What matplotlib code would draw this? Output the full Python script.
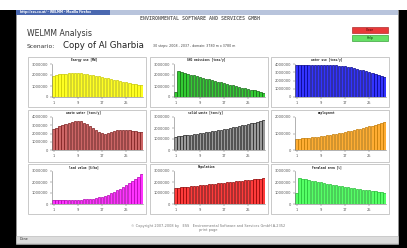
import matplotlib
matplotlib.use("Agg")
import matplotlib.pyplot as plt
from matplotlib.patches import Rectangle

W, H = 407, 248

# ---- data (values in millions) ----
steps = list(range(1, 31))
x_tick_steps = [1, 9, 17, 25]

titles = ["Energy use [MW]", "GHG emissions [tons/y]", "water use [tons/y]",
          "waste water [tons/y]", "solid waste [tons/y]", "employment",
          "land value [$/ha]", "Population", "Farmland area [%]"]

energy = [1.95, 2.0, 2.05, 2.1, 2.13, 2.15, 2.17, 2.18, 2.17, 2.15, 2.12, 2.08, 2.03, 1.98, 1.93,
          1.87, 1.81, 1.75, 1.69, 1.63, 1.57, 1.51, 1.45, 1.39, 1.33, 1.27, 1.21, 1.15, 1.1, 1.05]
ghg = [0.45, 2.36, 2.28, 2.2, 2.12, 2.04, 1.96, 1.88, 1.8, 1.73, 1.66, 1.6, 1.53, 1.46, 1.4,
       1.33, 1.27, 1.2, 1.13, 1.07, 1.0, 0.93, 0.86, 0.8, 0.73, 0.66, 0.6, 0.53, 0.46, 0.4]
water = [3.86, 3.87, 3.87, 3.86, 3.86, 3.86, 3.85, 3.85, 3.85, 3.84, 3.84, 3.84, 3.83, 3.82, 3.8,
         3.76, 3.71, 3.65, 3.58, 3.5, 3.42, 3.33, 3.23, 3.13, 3.02, 2.91, 2.8, 2.68, 2.56, 2.44]
waste_water = [2.6, 2.7, 2.85, 3.0, 3.15, 3.3, 3.4, 3.5, 3.52, 3.46, 3.32, 3.12, 2.88, 2.62, 2.38,
               2.18, 2.06, 2.0, 2.04, 2.14, 2.28, 2.38, 2.44, 2.45, 2.42, 2.37, 2.32, 2.27, 2.22, 2.18]
solid_waste = [1.2, 1.24, 1.28, 1.32, 1.36, 1.4, 1.44, 1.48, 1.52, 1.56, 1.6, 1.65, 1.7, 1.75, 1.8,
               1.85, 1.9, 1.95, 2.0, 2.06, 2.12, 2.18, 2.24, 2.3, 2.36, 2.42, 2.48, 2.55, 2.62, 2.7]
employment = [0.67, 0.68, 0.7, 0.72, 0.74, 0.76, 0.78, 0.8, 0.83, 0.86, 0.89, 0.92, 0.95, 0.98, 1.01,
              1.05, 1.09, 1.13, 1.17, 1.21, 1.25, 1.29, 1.33, 1.38, 1.43, 1.48, 1.53, 1.59, 1.65, 1.72]
land_value = [0.35, 0.35, 0.35, 0.36, 0.36, 0.37, 0.37, 0.38, 0.39, 0.4, 0.42, 0.44, 0.47, 0.5, 0.54,
              0.6, 0.68, 0.76, 0.86, 0.97, 1.1, 1.24, 1.4, 1.56, 1.72, 1.9, 2.08, 2.28, 2.5, 2.72]
population = [1.45, 1.48, 1.51, 1.54, 1.57, 1.6, 1.63, 1.66, 1.69, 1.72, 1.75, 1.78, 1.81, 1.84, 1.87,
              1.9, 1.93, 1.96, 1.99, 2.02, 2.05, 2.08, 2.11, 2.14, 2.17, 2.2, 2.23, 2.27, 2.31, 2.36]
farmland = [1.0, 2.36, 2.3, 2.24, 2.18, 2.13, 2.07, 2.02, 1.96, 1.91, 1.85, 1.8, 1.75, 1.7, 1.65,
            1.6, 1.55, 1.51, 1.47, 1.43, 1.39, 1.35, 1.31, 1.27, 1.23, 1.19, 1.15, 1.11, 1.06, 1.0]

series = [energy, ghg, water, waste_water, solid_waste, employment, land_value, population, farmland]
y_max = [3, 3, 4, 4, 3, 2, 3, 3, 3]

fills = ["#ffff22", "#33cc33", "#3333ff", "#cd6666", "#9a9a9a", "#ffad33", "#ff33ff", "#ff3b3b", "#55ff66"]
edges = ["#c8c800", "#116611", "#000088", "#7a1a1a", "#202020", "#c07800", "#b000b0", "#8a0000", "#22bb33"]


def fx(x):
    return x / W


def fy(y):
    return 1 - y / H


def box(fig, x0, y0, x1, y1, **kw):
    # page elements sit below the chart axes
    fig.patches.append(Rectangle((fx(x0), fy(y1)), (x1 - x0) / W, (y1 - y0) / H,
                                 transform=fig.transFigure, zorder=-1, **kw))


fig = plt.figure(figsize=(W / 100, H / 100), dpi=100, facecolor="black")

# screen chrome
box(fig, 0, 0, 407, 10, facecolor="white", edgecolor="none")
box(fig, 16, 10, 398, 244, facecolor="white", edgecolor="#9a9a9a", linewidth=0.5)
box(fig, 16, 10, 398, 15, facecolor="#4a68b0", edgecolor="none")
box(fig, 110, 10, 398, 15, facecolor="#b8c4dc", edgecolor="none")
box(fig, 16, 236, 398, 243, facecolor="#dcdcdc", edgecolor="#b0b0b0", linewidth=0.4)
fig.text(fx(20), fy(12.5), "http://ess.co.at/ - WELMM - Mozilla Firefox", color="white",
         fontsize=2.2, va="center", weight="bold")
fig.text(fx(20), fy(239.5), "Done", color="#333333", fontsize=2.4, va="center")

# page header
fig.lines.append(plt.Line2D([fx(93), fx(315)], [fy(18.5), fy(18.5)], transform=fig.transFigure,
                            color="#b0b0b0", lw=0.5, zorder=-1))
fig.text(fx(200), fy(18.5), "ENVIRONMENTAL SOFTWARE AND SERVICES GMBH", fontsize=3.6,
         family="DejaVu Sans Mono", weight="bold", color="#666666", ha="center", va="center",
         bbox=dict(facecolor="white", edgecolor="none", pad=0.6))
fig.text(fx(27), fy(34), "WELMM Analysis", fontsize=5.6, color="#333333", va="center")
fig.text(fx(27), fy(46), "Scenario:", fontsize=4.3, color="#333333", va="center")
fig.text(fx(63), fy(45.5), "Copy of Al Gharbia", fontsize=6.2, color="#222222", va="center")
fig.text(fx(153), fy(46), "30 steps: 2008 - 2037 , domain: 3780 m x 3780 m", fontsize=2.3,
         color="#444444", va="center")

box(fig, 352, 27, 388, 32.5, facecolor="#e83a3a", edgecolor="#a01010", linewidth=0.4)
box(fig, 352, 35, 388, 40.5, facecolor="#66e066", edgecolor="#209020", linewidth=0.4)
fig.text(fx(370), fy(29.8), "Close", fontsize=2.2, color="#400000", ha="center", va="center")
fig.text(fx(370), fy(37.8), "Help", fontsize=2.2, color="#003000", ha="center", va="center")

# 3x3 grid of bar charts
col_x = [(28, 146), (150, 268), (271, 389)]
row_y = [57, 110, 164]
panel_h = [50, 52, 50]

for i, vals in enumerate(series):
    r, c = divmod(i, 3)
    left, right = col_x[c]
    top = row_y[r]
    box(fig, left, top, right, top + panel_h[r], facecolor="white", edgecolor="#b4b4b4", linewidth=0.5)
    fig.text(fx((left + right) / 2 - 3), fy(top + 3), titles[i], fontsize=2.2,
             family="DejaVu Sans Mono", weight="bold", color="#222222", ha="center", va="center")

    ax = fig.add_axes([fx(left + 24), fy(top + 40), (right - left - 27) / W, 33 / H])
    ax.patch.set_alpha(0)
    ax.bar(steps, vals, width=0.78, color=fills[i], edgecolor=edges[i], linewidth=0.5)
    ax.set_xlim(0.5, 30.5)
    ax.set_ylim(0, y_max[i])
    ax.set_xticks(x_tick_steps)
    ax.set_xticklabels([str(s) for s in x_tick_steps])
    ticks = list(range(0, y_max[i] + 1))
    ax.set_yticks(ticks)
    ax.set_yticklabels([str(t * 1000000) for t in ticks])
    ax.tick_params(labelsize=2.6, colors="#555555", length=1.2, width=0.3, pad=1.5)
    for s in ["top", "right"]:
        ax.spines[s].set_visible(False)
    for s in ["left", "bottom"]:
        ax.spines[s].set_color("#777777")
        ax.spines[s].set_linewidth(0.4)

# footer
fig.text(fx(208), fy(225.5), "\u00a9 Copyright 2007-2008 by   ESS   Environmental Software and Services GmbH A-2352",
         fontsize=2.5, color="#777777", ha="center", va="center")
fig.text(fx(208), fy(230.5), "print page", fontsize=2.5, color="#777777", ha="center", va="center")

fig.savefig("out.png", dpi=100, facecolor=fig.get_facecolor())
